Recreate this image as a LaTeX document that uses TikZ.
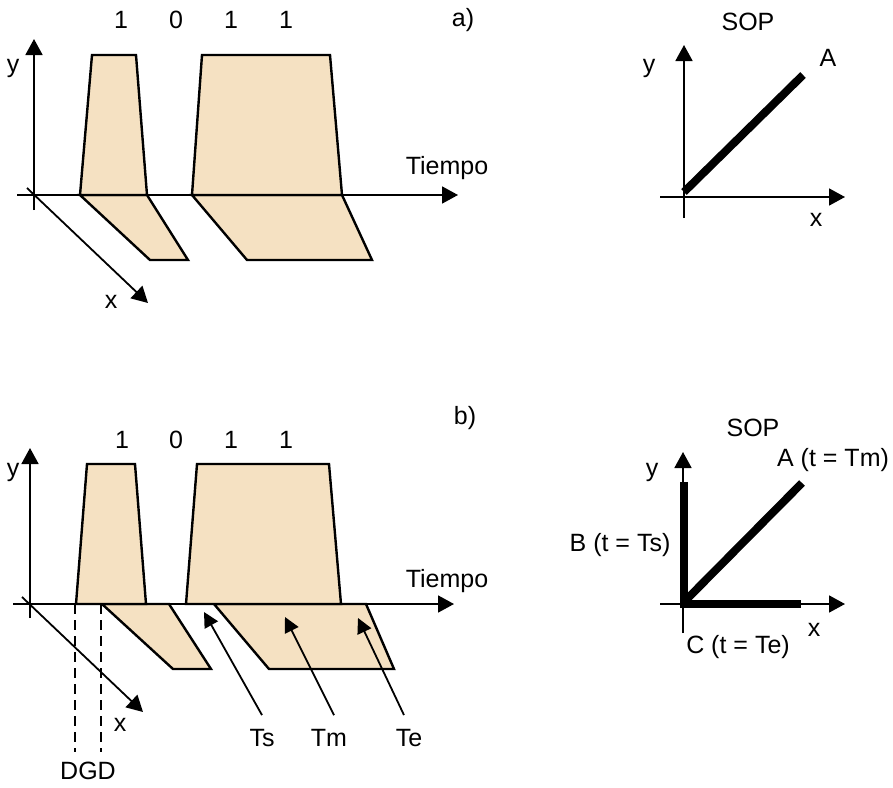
\documentclass[tikz,border=0pt]{standalone}
\usepackage{fontspec}
\setmainfont{Liberation Sans}
\usetikzlibrary{arrows.meta}
\definecolor{pulse}{RGB}{245,225,194}
\begin{document}
\begin{tikzpicture}[x=1pt,y=-1pt,
  axis/.style={line width=1.8pt,-{Triangle[length=16pt,width=17pt]}},
  pulsebox/.style={fill=pulse,draw=black,line width=2.4pt,line join=miter},
  pointer/.style={line width=1.8pt,-{Triangle[length=15pt,width=15pt]}},
  sop/.style={line width=8pt},
  lbl/.style={font=\fontsize{25}{27}\selectfont,inner sep=0pt}]
\useasboundingbox (0,0) rectangle (893,787);

% ---------- panel a) ----------
\draw[pulsebox] (80,195) -- (150,260) -- (188,260) -- (147,195) -- cycle;
\draw[pulsebox] (192,195) -- (247,260) -- (372,260) -- (342,195) -- cycle;
\draw[pulsebox] (80,195) -- (92,55) -- (136,55) -- (147,195) -- cycle;
\draw[pulsebox] (192,195) -- (202,55) -- (330,55) -- (342,195) -- cycle;
\coordinate (ay0) at (34,210); \coordinate (ay1) at (34,39);
\coordinate (at0) at (17,195); \coordinate (at1) at (458,195);
\coordinate (ax0) at (27,188); \coordinate (ax1) at (148,303);
\draw[axis] (ay0) -- (ay1);
\draw[axis] (at0) -- (at1);
\draw[axis] (ax0) -- (ax1);
\node[lbl] (ayl) at (13,68) {y};
\node[lbl] (axl) at (111,302) {x};
\node[lbl] (atl) at (447,168) {Tiempo};
\node[lbl] (ab1) at (121,20) {1};
\node[lbl] (ab2) at (176,20) {0};
\node[lbl] (ab3) at (231,20) {1};
\node[lbl] (ab4) at (286,20) {1};
\node[lbl] (alab) at (463,20) {a)};

% SOP a)
\coordinate (sy0) at (684,218); \coordinate (sy1) at (684,45);
\coordinate (sx0) at (660,197); \coordinate (sx1) at (845,197);
\draw[axis] (sy0) -- (sy1);
\draw[axis] (sx0) -- (sx1);
\coordinate (sA0) at (684,192); \coordinate (sA1) at (803,75);
\draw[sop] (sA0) -- (sA1);
\node[lbl] (sopa) at (748,22) {SOP};
\node[lbl] (sya) at (649,68) {y};
\node[lbl] (sxa) at (816,220) {x};
\node[lbl] (sAa) at (828,58) {A};

% ---------- panel b) ----------
\draw[pulsebox] (102,604) -- (173,669) -- (211,669) -- (169,604) -- cycle;
\draw[pulsebox] (214,604) -- (269,669) -- (394,669) -- (366,604) -- cycle;
\draw[pulsebox] (76,604) -- (87,464) -- (135,464) -- (146,604) -- cycle;
\draw[pulsebox] (186,604) -- (197,464) -- (329,464) -- (341,604) -- cycle;
\coordinate (by0) at (30,618); \coordinate (by1) at (30,448);
\coordinate (bt0) at (13,604); \coordinate (bt1) at (454,604);
\coordinate (bx0) at (22,597); \coordinate (bx1) at (143,712);
\draw[axis] (by0) -- (by1);
\draw[axis] (bt0) -- (bt1);
\draw[axis] (bx0) -- (bx1);
\coordinate (d1a) at (75,604); \coordinate (d1b) at (75,752);
\coordinate (d2a) at (101,604); \coordinate (d2b) at (101,752);
\draw[line width=1.4pt,dash pattern=on 10pt off 6pt] (d1a) -- (d1b);
\draw[line width=1.4pt,dash pattern=on 10pt off 6pt] (d2a) -- (d2b);
\node[lbl] (dgd) at (88,771) {DGD};
\node[lbl] (byl) at (13,472) {y};
\node[lbl] (bxl) at (120,725) {x};
\node[lbl] (btl) at (447,581) {Tiempo};
\node[lbl] (bb1) at (122,440) {1};
\node[lbl] (bb2) at (176,440) {0};
\node[lbl] (bb3) at (231,440) {1};
\node[lbl] (bb4) at (286,440) {1};
\node[lbl] (blab) at (465,418) {b)};
\node[lbl] (ts) at (262,738) {Ts};
\node[lbl] (tm) at (329,738) {Tm};
\node[lbl] (te) at (409,738) {Te};
\coordinate (tsp) at (204,612);
\coordinate (tmp) at (285,617);
\coordinate (tep) at (358,618);
\draw[pointer] (ts.north) ++(0,-14) -- (tsp);
\draw[pointer] (tm.north) ++(5,-14) -- (tmp);
\draw[pointer] (te.north) ++(-5,-14) -- (tep);

% SOP b)
\coordinate (ty0) at (683,633); \coordinate (ty1) at (683,452);
\coordinate (tx0) at (660,604); \coordinate (tx1) at (845,604);
\draw[axis] (ty0) -- (ty1);
\draw[axis] (tx0) -- (tx1);
\coordinate (o) at (684,602);
\coordinate (B1) at (684,482);
\coordinate (C1) at (801,604);
\coordinate (A1) at (802,483);
\draw[sop] (B1) -- (684,604) -- (C1);
\draw[sop] (o) -- (A1);
\node[lbl] (sopb) at (753,428) {SOP};
\node[lbl] (syb) at (652,472) {y};
\node[lbl] (sxb) at (814,630) {x};
\node[lbl] (sAb) at (833,460) {A (t = Tm)};
\node[lbl] (sBb) at (620,545) {B (t = Ts)};
\node[lbl] (sCb) at (738,647) {C (t = Te)};
\end{tikzpicture}
\end{document}
